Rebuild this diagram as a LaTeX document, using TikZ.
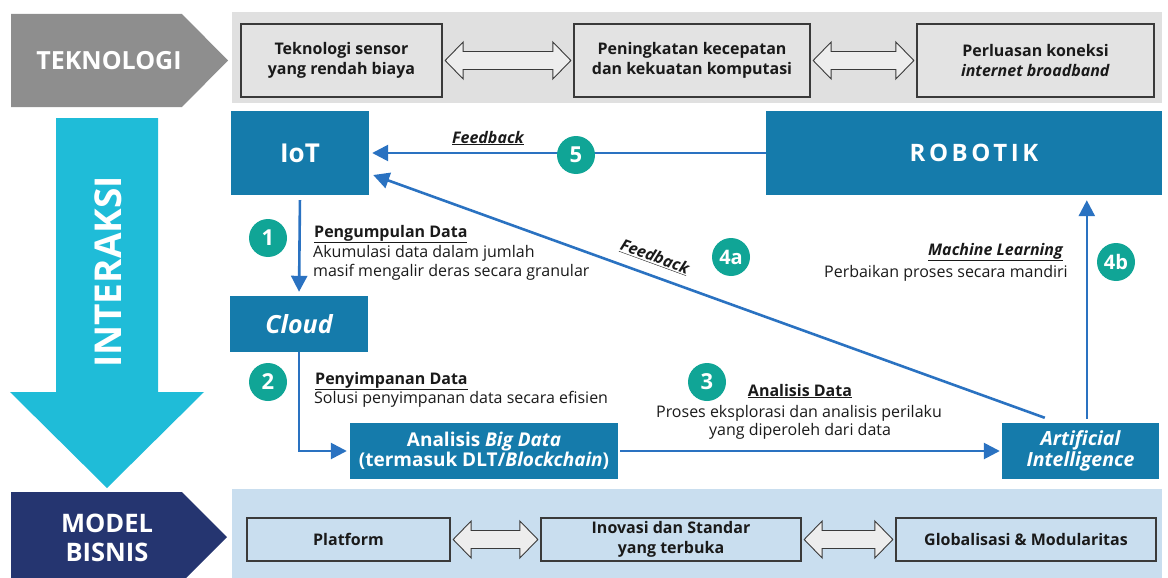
\documentclass[tikz,border=0pt]{standalone}
\usepackage{fontspec}
\setmainfont{Open Sans}
\usetikzlibrary{arrows.meta,calc}

\definecolor{techgray}{HTML}{8E8E8E}
\definecolor{bandgray}{HTML}{E0E0E0}
\definecolor{boxgray}{HTML}{E3E3E3}
\definecolor{arrowfill}{HTML}{EDEDED}
\definecolor{navy}{HTML}{253570}
\definecolor{bandblue}{HTML}{C9DEEF}
\definecolor{cyanarrow}{HTML}{1FBCD8}
\definecolor{boxblue}{HTML}{157BAB}
\definecolor{linkblue}{HTML}{2A72C1}
\definecolor{stepteal}{HTML}{10A596}
\definecolor{ink}{HTML}{1A1A1A}
\definecolor{frame}{HTML}{3A3A3A}

\tikzset{
  techbox/.style={draw=frame, line width=1.3pt, fill=boxgray, text=ink,
    font=\bfseries\fontsize{16}{19.5}\selectfont, align=center, inner sep=0pt},
  bizbox/.style={techbox, fill=bandblue},
  bluebox/.style={fill=boxblue, text=white, align=center, inner sep=0pt},
  flow/.style={draw=linkblue, line width=2.6pt, -{Triangle[length=16pt,width=16pt]}},
  stepdot/.style={circle, fill=stepteal, text=white, minimum size=38pt, inner sep=0pt,
    font=\bfseries\fontsize{22}{22}\selectfont},
  heading/.style={font=\bfseries\fontsize{16}{19}\selectfont, text=ink, inner sep=0pt},
  note/.style={font=\fontsize{16}{19}\selectfont, text=ink, inner sep=0pt},
  twoway/.style={draw=frame, line width=0.9pt, fill=arrowfill, line join=miter},
  sidelabel/.style={text=white, align=center, inner sep=0pt,
    font=\bfseries\fontsize{25}{28}\selectfont}
}

% hollow two-headed arrow between two boxes
\newcommand\twowaylink[2]{%
  \draw[twoway] let \p1=($(#1.east)+(2.5pt,0)$), \p2=($(#2.west)-(2.5pt,0)$) in
    (\p1) -- (\x1+18pt,\y1+18.5pt) -- (\x1+18pt,\y1+9pt) -- (\x2-18pt,\y1+9pt)
    -- (\x2-18pt,\y1+18.5pt) -- (\x2,\y1) -- (\x2-18pt,\y1-18.5pt) -- (\x2-18pt,\y1-9pt)
    -- (\x1+18pt,\y1-9pt) -- (\x1+18pt,\y1-18.5pt) -- cycle;}

\begin{document}
\begin{tikzpicture}[x=1pt, y=-1pt]
\useasboundingbox (0,0) rectangle (1168,578);

% ---- row labels on the left ----
\fill[techgray] (11,14) -- (182,14) -- (228,60.5) -- (182,107) -- (11,107) -- cycle;
\node[sidelabel] (tekno) at (109,61) {TEKNOLOGI};

\fill[cyanarrow] (56,118) -- (158,118) -- (158,392) -- (204,392) -- (107,488)
  -- (10,392) -- (56,392) -- cycle;
\node[sidelabel, rotate=90, font=\bfseries\fontsize{37}{37}\selectfont] (inter) at (108,272) {INTERAKSI};

\fill[navy] (11,492) -- (182,492) -- (227,537) -- (186,578) -- (11,578) -- cycle;
\node[sidelabel, font=\bfseries\fontsize{25.5}{29}\selectfont] (model) at (107,538) {MODEL\\BISNIS};

% ---- technology band ----
\fill[bandgray] (232,12) rectangle (1162,103);
\node[techbox, minimum width=201pt, minimum height=73pt] (t1) at (341.5,60.5) {Teknologi sensor\\yang rendah biaya};
\node[techbox, minimum width=236pt, minimum height=73pt] (t2) at (692,60.5) {Peningkatan kecepatan\\dan kekuatan komputasi};
\node[techbox, minimum width=237pt, minimum height=73pt] (t3) at (1035.5,60.5) {Perluasan koneksi\\\textit{internet broadband}};
\twowaylink{t1}{t2}
\twowaylink{t2}{t3}

% ---- business model band ----
\fill[bandblue] (232,489) rectangle (1162,578);
\node[bizbox, minimum width=203pt, minimum height=43pt] (b1) at (348.5,539.5) {Platform};
\node[bizbox, minimum width=260pt, minimum height=43pt] (b2) at (671,539.5) {Inovasi dan Standar\\yang terbuka};
\node[bizbox, minimum width=260pt, minimum height=43pt] (b3) at (1026,539.5) {Globalisasi \& Modularitas};
\twowaylink{b1}{b2}
\twowaylink{b2}{b3}

% ---- interaction blocks ----
\node[bluebox, minimum width=138pt, minimum height=84pt,
      font=\bfseries\fontsize{26}{26}\selectfont] (iot) at (300,153) {IoT};
\node[bluebox, minimum width=396pt, minimum height=84pt,
      font=\bfseries\fontsize{24}{24}\selectfont] (robot) at (964,153)
      {\hspace*{20pt}\addfontfeature{LetterSpace=15}ROBOTIK};
\node[bluebox, minimum width=138pt, minimum height=56pt,
      font=\bfseries\itshape\fontsize{25}{25}\selectfont] (cloud) at (299,324) {Cloud};
\node[bluebox, minimum width=268pt, minimum height=56pt,
      font=\bfseries\fontsize{19}{20.5}\selectfont] (bigdata) at (484,451)
      {Analisis \textit{Big Data}\\(termasuk DLT/\textit{Blockchain})};
\node[bluebox, minimum width=157pt, minimum height=56pt,
      font=\bfseries\itshape\fontsize{19.5}{20.5}\selectfont] (ai) at (1080.5,451)
      {Artificial\\Intelligence};

% ---- flows ----
\coordinate (s4a) at ($(ai.north west)+(43,-5)$);
\coordinate (e4a) at ($(iot.east)+(4,22)$);
\coordinate (s4b) at ($(ai.north west)+(85,-4)$);

\draw[flow, shorten >=3pt] (robot.west) -- (iot.east);
\draw[flow, shorten <=5pt, shorten >=4pt] (iot.south) -- (cloud.north);
\draw[flow, shorten >=3pt] (cloud.south) |- (bigdata.west);
\draw[flow, shorten <=2pt, shorten >=2pt] (bigdata.east) -- (ai.west);
\draw[flow] (s4a) -- (e4a);
\draw[flow, shorten >=5pt] (s4b) -- (s4b |- robot.south);

% ---- step markers ----
\node[stepdot] (n5) at (576,155) {5};
\node[stepdot] (n1) at (268,238) {1};
\node[stepdot] (n2) at (268,382) {2};
\node[stepdot] (n3) at (707,382) {3};
\node[stepdot, font=\bfseries\fontsize{20}{20}\selectfont] (n4a) at (731,257) {4a};
\node[stepdot, font=\bfseries\fontsize{20}{20}\selectfont] (n4b) at (1116,262) {4b};

% ---- flow descriptions ----
\node[heading, anchor=base] (fb5) at (488,143) {\textit{\underline{Feedback}}};
\node[heading, anchor=base, rotate=-20] (fb4a) at (653,262) {\textit{\underline{Feedback}}};

\node[heading, anchor=base west] (h1) at (314,237) {\underline{Pengumpulan Data}};
\node[note, anchor=base west] (d1a) at (313,257) {Akumulasi data dalam jumlah};
\node[note, anchor=base west] (d1b) at (313,276) {masif mengalir deras secara granular};

\node[heading, anchor=base west] (h2) at (315,384) {\underline{Penyimpanan Data}};
\node[note, anchor=base west] (d2) at (314,403) {Solusi penyimpanan data secara efisien};

\node[heading, anchor=base] (h3) at (800,396) {\underline{Analisis Data}};
\node[note, anchor=base] (d3a) at (799,417) {Proses eksplorasi dan analisis perilaku};
\node[note, anchor=base] (d3b) at (800,435) {yang diperoleh dari data};

\node[heading, anchor=base east] (h4b) at (1063,255) {\textit{\underline{Machine Learning}}};
\node[note, anchor=base east] (d4b) at (1068,277) {Perbaikan proses secara mandiri};
\end{tikzpicture}
\end{document}
